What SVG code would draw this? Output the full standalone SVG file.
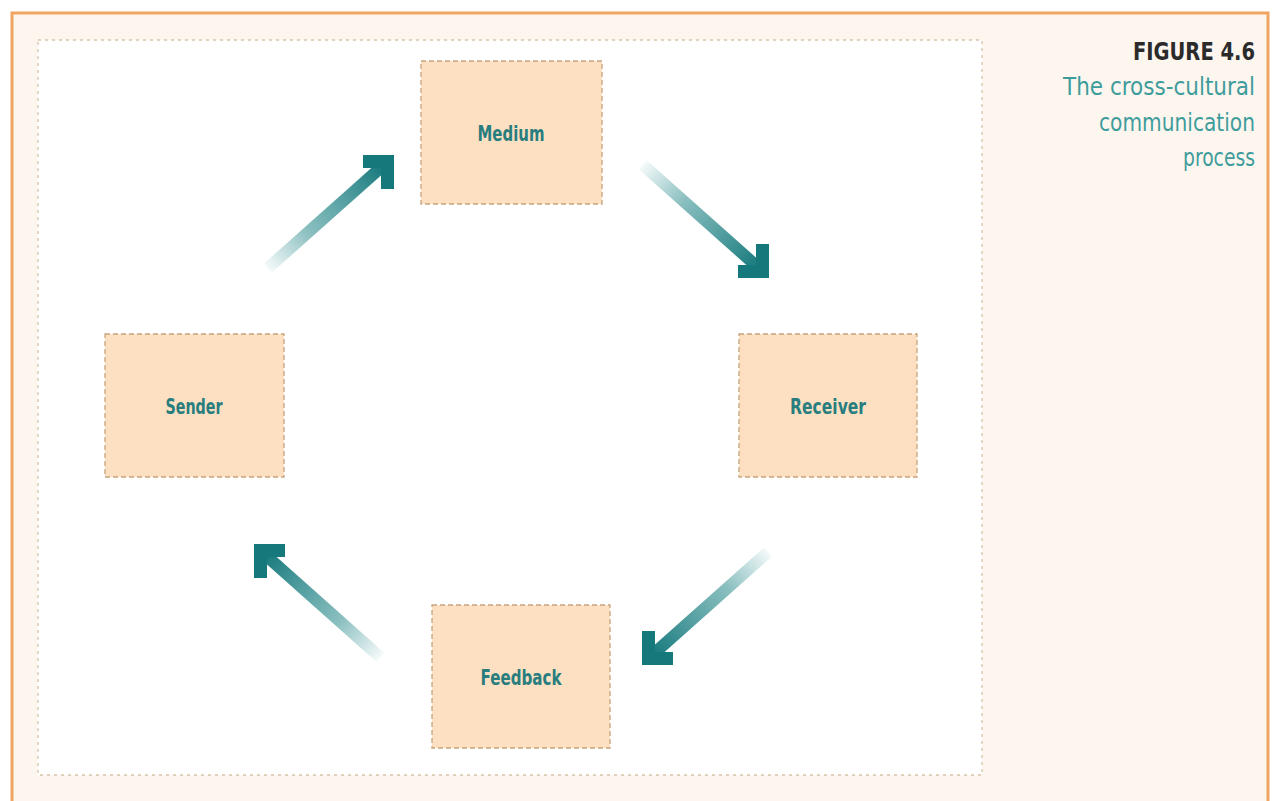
<svg xmlns="http://www.w3.org/2000/svg" xmlns:xlink="http://www.w3.org/1999/xlink" width="1275" height="801" viewBox="0 0 1275 801">
<style>
.node rect{fill:#fde0c2;stroke:#c8a47c;stroke-width:1.3;stroke-dasharray:5 3}
.lbl{font-family:"DejaVu Sans Condensed","DejaVu Sans",sans-serif;font-weight:bold;font-size:21px;fill:#287d7e;text-anchor:middle}
.cap{font-family:"DejaVu Sans Condensed","DejaVu Sans",sans-serif;font-size:25px;fill:#3f9c9c;text-anchor:end}
.fig{font-family:"DejaVu Sans Condensed","DejaVu Sans",sans-serif;font-weight:bold;font-size:25px;fill:#2b2b2b;text-anchor:end}
</style>
<defs>
<linearGradient id="fade" gradientUnits="userSpaceOnUse" x1="-126" y1="113" x2="-10" y2="9">
<stop offset="0" stop-color="#2a8a8c" stop-opacity="0.05"/>
<stop offset="0.35" stop-color="#2a8a8c" stop-opacity="0.55"/>
<stop offset="1" stop-color="#15787b" stop-opacity="1"/>
</linearGradient>
<g id="arrow">
<line x1="-126" y1="113" x2="-8" y2="8" stroke="url(#fade)" stroke-width="12"/>
<polygon points="-31,0 0,0 0,34 -13,34 -13,13 -31,13" fill="#15787b"/>
</g>
</defs>
<rect x="0" y="0" width="1275" height="801" fill="#ffffff"/>
<rect x="12" y="13" width="1256" height="800" fill="#fdf6ef" stroke="#f0a562" stroke-width="3"/>
<rect x="38" y="40" width="944" height="735" fill="#ffffff" stroke="#d8c3a8" stroke-width="1.3" stroke-dasharray="3 4"/>
<g id="title">
<text class="fig" x="1255" y="60" textLength="122" lengthAdjust="spacingAndGlyphs">FIGURE 4.6</text>
<text class="cap" x="1255" y="95" textLength="192" lengthAdjust="spacingAndGlyphs">The cross-cultural</text>
<text class="cap" x="1255" y="131" textLength="156" lengthAdjust="spacingAndGlyphs">communication</text>
<text class="cap" x="1255" y="166" textLength="72" lengthAdjust="spacingAndGlyphs">process</text>
</g>
<g id="connectors">
<use xlink:href="#arrow" transform="translate(394,155)"/>
<use xlink:href="#arrow" transform="translate(769,278) scale(1,-1)"/>
<use xlink:href="#arrow" transform="translate(642,665) scale(-1,-1)"/>
<use xlink:href="#arrow" transform="translate(254,544) scale(-1,1)"/>
</g>
<g id="medium" class="node"><rect x="421" y="61" width="181" height="143"/><text class="lbl" x="511" y="141" textLength="67" lengthAdjust="spacingAndGlyphs">Medium</text></g>
<g id="sender" class="node"><rect x="105" y="334" width="179" height="143"/><text class="lbl" x="194" y="414" textLength="57" lengthAdjust="spacingAndGlyphs">Sender</text></g>
<g id="receiver" class="node"><rect x="739" y="334" width="178" height="143"/><text class="lbl" x="828" y="414" textLength="76" lengthAdjust="spacingAndGlyphs">Receiver</text></g>
<g id="feedback" class="node"><rect x="432" y="605" width="178" height="143"/><text class="lbl" x="521" y="685" textLength="81" lengthAdjust="spacingAndGlyphs">Feedback</text></g>
</svg>
